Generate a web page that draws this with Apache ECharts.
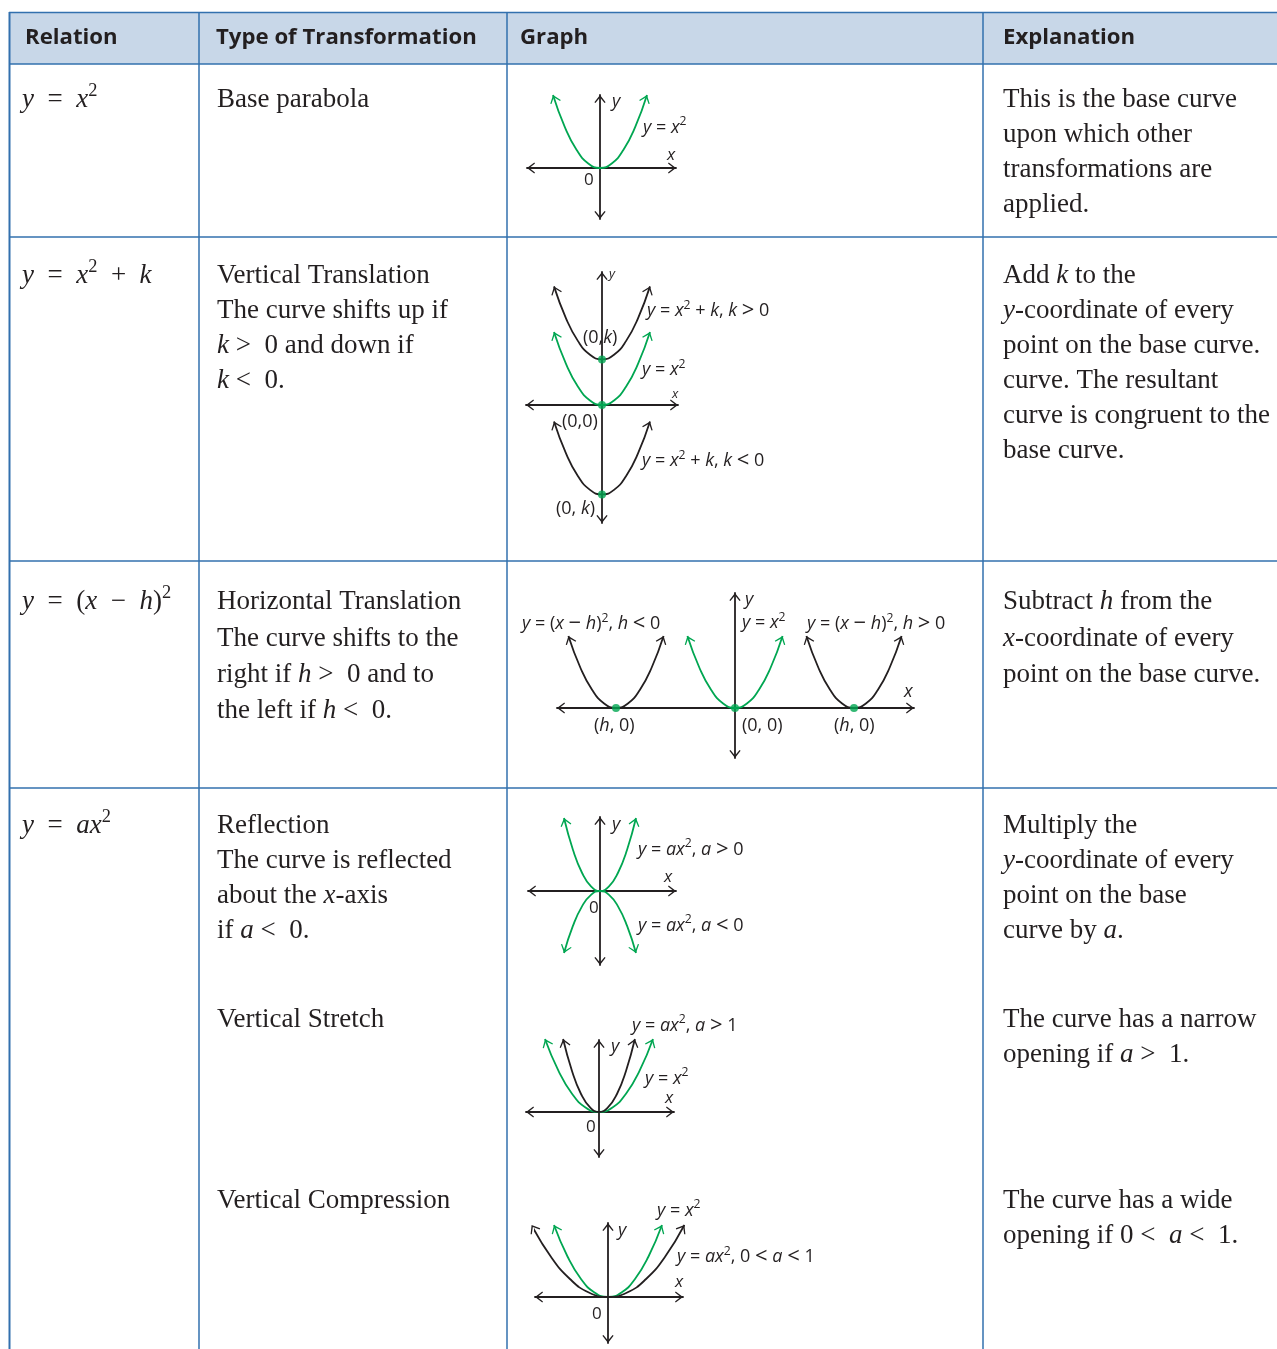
<!DOCTYPE html>
<html>
<head>
<meta charset="utf-8">
<title>Transformations of y = x^2</title>
<script src="https://cdn.jsdelivr.net/npm/echarts@6/dist/echarts.min.js"></script>
<style>
  html, body { margin: 0; padding: 0; background: #fff; }
  #chart { width: 1277px; height: 1349px; }
</style>
</head>
<body>
<div id="chart"></div>
<script>
// ---- curve samples (x values / y values per curve) ----
const baseX = [-2, -1.5, -1, -0.5, 0, 0.5, 1, 1.5, 2];
const baseY = [4, 2.25, 1, 0.25, 0, 0.25, 1, 2.25, 4];
const shiftUpY = [6.5, 4.75, 3.5, 2.75, 2.5, 2.75, 3.5, 4.75, 6.5];
const shiftDownY = [-0.9, -2.65, -3.9, -4.65, -4.9, -4.65, -3.9, -2.65, -0.9];
const leftShiftX = [-7, -6.5, -6, -5.5, -5, -4.5, -4, -3.5, -3];
const rightShiftX = [3, 3.5, 4, 4.5, 5, 5.5, 6, 6.5, 7];
const reflectX = [-1.5, -1.125, -0.75, -0.375, 0, 0.375, 0.75, 1.125, 1.5];
const reflectDownY = [-3.4, -1.9, -0.84, -0.21, 0, -0.21, -0.84, -1.9, -3.4];
const stretchX = [-1.33, -1, -0.67, -0.33, 0, 0.33, 0.67, 1, 1.33];
const compressX = [-2.83, -2.12, -1.41, -0.71, 0, 0.71, 1.41, 2.12, 2.83];
const vertexShiftV = [[0, 2.5], [0, 0], [0, -4.9]];
const vertexShiftH = [[-5, 0], [0, 0], [5, 0]];

// ---- table text (baseline y, text) ----
const headers = [[25, 'Relation'], [216, 'Type of Transformation'], [520, 'Graph'], [1003, 'Explanation']];
const relationCol = [
  [109, '{i|y}  =  {i|x}{s|2}'],
  [285, '{i|y}  =  {i|x}{s|2}  +  {i|k}'],
  [611, '{i|y}  =  ({i|x}  \u2212  {i|h}){s|2}'],
  [835, '{i|y}  =  {i|ax}{s|2}']
];
const typeCol = [
  [109, 'Base parabola'],
  [285, 'Vertical Translation'],
  [320, 'The curve shifts up if'],
  [355, '{i|k} >  0 and down if'],
  [390, '{i|k} <  0.'],
  [611, 'Horizontal Translation'],
  [648, 'The curve shifts to the'],
  [684, 'right if {i|h} >  0 and to'],
  [720, 'the left if {i|h} <  0.'],
  [835, 'Reflection'],
  [870, 'The curve is reflected'],
  [905, 'about the {i|x}-axis'],
  [940, 'if {i|a} <  0.'],
  [1029, 'Vertical Stretch'],
  [1210, 'Vertical Compression']
];
const explainCol = [
  [109, 'This is the base curve'], [144, 'upon which other'], [179, 'transformations are'], [214, 'applied.'],
  [285, 'Add {i|k} to the'], [320, '{i|y}-coordinate of every'], [355, 'point on the base curve.'],
  [390, 'curve. The resultant'], [425, 'curve is congruent to the'], [460, 'base curve.'],
  [611, 'Subtract {i|h} from the'], [648, '{i|x}-coordinate of every'], [684, 'point on the base curve.'],
  [835, 'Multiply the'], [870, '{i|y}-coordinate of every'], [905, 'point on the base'], [940, 'curve by {i|a}.'],
  [1029, 'The curve has a narrow'], [1064, 'opening if {i|a} >  1.'],
  [1210, 'The curve has a wide'], [1245, 'opening if 0 <  {i|a} <  1.']
];

const INK = '#231f20';
const GREEN = '#00a651';
const RULE = '#3270ae';
const HEAD_FILL = '#c8d7e8';
const SERIF = '"Liberation Serif", "Times New Roman", serif';
const SANS = '"Open Sans", "Noto Sans", sans-serif';
// open chevron, tip at the centre of its box so it lands on the line end
const ARROW = 'path://M0,0L5.6,7.3L4.6,8L0,2.4L-4.6,8L-5.6,7.3ZM0,-8L0.01,-8L0,-7.99Z';

// pixel frame of each small graph: origin, px per unit, axis ends
const graphs = [
  { ox: 600, oy: 168, ux: 23.5, uy: 18.25, l: 527, r: 676, t: 95, b: 219 },
  { ox: 602, oy: 405, ux: 24, uy: 18.25, l: 526, r: 678, t: 272, b: 523 },
  { ox: 735, oy: 708, ux: 23.8, uy: 18, l: 557, r: 914, t: 593, b: 758 },
  { ox: 600, oy: 891, ux: 24, uy: 18.25, l: 528, r: 676, t: 817, b: 965 },
  { ox: 599, oy: 1112, ux: 27, uy: 18.25, l: 526, r: 674, t: 1040, b: 1157 },
  { ox: 608, oy: 1297, ux: 27, uy: 18, l: 535, r: 683, t: 1223, b: 1343 }
];

const curves = [
  [0, baseX, baseY, GREEN],
  [1, baseX, shiftUpY, INK],
  [1, baseX, baseY, GREEN],
  [1, baseX, shiftDownY, INK],
  [2, leftShiftX, baseY, INK],
  [2, baseX, baseY, GREEN],
  [2, rightShiftX, baseY, INK],
  [3, reflectX, baseY, GREEN],
  [3, reflectX, reflectDownY, GREEN],
  [4, baseX, baseY, GREEN],
  [4, stretchX, baseY, INK],
  [5, baseX, baseY, GREEN],
  [5, compressX, baseY, INK]
];

// graph labels: x, middle y, text, font size
const LBL = 18;
const AX = 18;
const graphLabels = [
  [612, 102, '{i|y}', AX], [643, 127.5, '{i|y} = {i|x}{s|2}', LBL], [667, 155, '{i|x}', 17], [584, 180, '0', 17],

  [609, 274, '{i|y}', 13], [647, 311, '{i|y} = {i|x}{s|2} + {i|k}, {i|k} {o|>} 0', LBL], [583, 338, '(0,{i|k})', LBL],
  [642, 370, '{i|y} = {i|x}{s|2}', LBL], [672, 394, '{i|x}', 13], [562, 422, '(0,0)', LBL],
  [642, 461, '{i|y} = {i|x}{s|2} + {i|k}, {i|k} {o|<} 0', LBL], [556, 508.5, '(0, {i|k})', LBL],

  [745, 600, '{i|y}', AX], [522, 624, '{i|y} = ({i|x} {o|\u2212} {i|h}){s|2}, {i|h} {o|<} 0', LBL],
  [742, 623, '{i|y} = {i|x}{s|2}', LBL], [807, 624, '{i|y} = ({i|x} {o|\u2212} {i|h}){s|2}, {i|h} {o|>} 0', LBL],
  [904, 692, '{i|x}', AX], [594, 726, '({i|h}, 0)', LBL], [742, 726, '(0, 0)', LBL], [834, 726, '({i|h}, 0)', LBL],

  [612, 825, '{i|y}', AX], [638, 849.5, '{i|y} = {i|ax}{s|2}, {i|a} {o|>} 0', LBL], [664, 877.5, '{i|x}', 17],
  [589, 908, '0', 17], [638, 925.5, '{i|y} = {i|ax}{s|2}, {i|a} {o|<} 0', LBL],

  [632, 1025.5, '{i|y} = {i|ax}{s|2}, {i|a} {o|>} 1', LBL], [611, 1046.5, '{i|y}', AX], [645, 1078.5, '{i|y} = {i|x}{s|2}', LBL],
  [665, 1098.5, '{i|x}', 17], [586, 1127, '0', 17],

  [657, 1210.5, '{i|y} = {i|x}{s|2}', LBL], [618, 1230.5, '{i|y}', AX], [677, 1257, '{i|y} = {i|ax}{s|2}, 0 {o|<} {i|a} {o|<} 1', LBL],
  [675, 1282.5, '{i|x}', 17], [592, 1314, '0', 17]
];

// rich styles: italic variables, raised superscript, larger relation signs
function richFor(fs, family, raise) {
  const lh = Math.round(fs * 1.3);
  return {
    lh: lh,
    rich: {
      i: { fontFamily: family, fontSize: fs, fontStyle: 'italic', fill: INK, lineHeight: lh },
      s: { fontFamily: family, fontSize: Math.round(fs * 0.68 * 10) / 10, fill: INK, lineHeight: lh - 2 * raise, verticalAlign: 'top' },
      o: { fontFamily: family, fontSize: Math.round(fs * 1.2), fill: INK, lineHeight: lh }
    }
  };
}

function textEl(x, y, str, fs, family, rs, extra) {
  return {
    type: 'text', x: x, y: y, silent: true,
    style: Object.assign({
      text: str, fontFamily: family, fontSize: fs, fill: INK,
      align: 'left', verticalAlign: 'middle',
      lineHeight: rs ? rs.lh : undefined, rich: rs ? rs.rich : undefined
    }, extra || {})
  };
}

const SERIF_FS = 27;
const serifRich = richFor(SERIF_FS, SERIF, 4.5);
const serifMid = 0.3375 * SERIF_FS;

const graphic = [];
graphic.push({ type: 'rect', silent: true, shape: { x: 9, y: 12, width: 1268, height: 52 }, style: { fill: HEAD_FILL } });
[12.5, 64, 237, 561, 788].forEach(function (y) {
  graphic.push({ type: 'line', silent: true, shape: { x1: 9, y1: y, x2: 1277, y2: y }, style: { stroke: RULE, lineWidth: 1.5 } });
});
[9.5, 199, 507, 983].forEach(function (x) {
  graphic.push({ type: 'line', silent: true, shape: { x1: x, y1: 12, x2: x, y2: 1349 }, style: { stroke: RULE, lineWidth: x < 10 ? 2 : 1.5 } });
});
headers.forEach(function (h) {
  graphic.push(textEl(h[0], 38, h[1], 22.2, SANS, null, { fontWeight: 'bold' }));
});
relationCol.forEach(function (t) { graphic.push(textEl(22, t[0] - serifMid, t[1], SERIF_FS, SERIF, serifRich)); });
typeCol.forEach(function (t) { graphic.push(textEl(217, t[0] - serifMid, t[1], SERIF_FS, SERIF, serifRich)); });
explainCol.forEach(function (t) { graphic.push(textEl(1003, t[0] - serifMid, t[1], SERIF_FS, SERIF, serifRich)); });
graphLabels.forEach(function (t) {
  graphic.push(textEl(t[0], t[1], t[2], t[3], SANS, richFor(t[3], SANS, 3.2)));
});

function axisFor(i, min, max) {
  return {
    gridIndex: i, type: 'value', min: min, max: max, silent: true,
    axisLine: { onZero: true, symbol: [ARROW, ARROW], symbolSize: [11.2, 16], lineStyle: { color: INK, width: 1.8 } },
    axisTick: { show: false }, axisLabel: { show: false }, splitLine: { show: false }
  };
}

function curveSeries(gi, xs, ys, color) {
  const g = graphs[gi];
  const n = xs.length;
  const angle = function (a, b) {
    const dx = (xs[a] - xs[b]) * g.ux;
    const dy = -(ys[a] - ys[b]) * g.uy;
    return Math.atan2(-dx, -dy) * 180 / Math.PI;
  };
  const data = xs.map(function (x, i) { return [x, ys[i]]; });
  const tip = function (i, ang) {
    return { value: [xs[i], ys[i]], symbol: ARROW, symbolSize: [11.2, 16], symbolRotate: ang, itemStyle: { color: color, borderWidth: 0 } };
  };
  data[0] = tip(0, angle(0, 1));
  data[n - 1] = tip(n - 1, angle(n - 1, n - 2));
  return {
    type: 'line', xAxisIndex: gi, yAxisIndex: gi, data: data, smooth: 0.5,
    symbol: 'none', showSymbol: true, showAllSymbol: true, clip: false, silent: true,
    lineStyle: { color: color, width: 1.8 }, itemStyle: { color: color }, z: 3
  };
}

const series = curves.map(function (c) { return curveSeries(c[0], c[1], c[2], c[3]); });
series.push({ type: 'scatter', xAxisIndex: 1, yAxisIndex: 1, data: vertexShiftV, symbolSize: 8, itemStyle: { color: GREEN }, z: 5, silent: true });
series.push({ type: 'scatter', xAxisIndex: 2, yAxisIndex: 2, data: vertexShiftH, symbolSize: 8, itemStyle: { color: GREEN }, z: 5, silent: true });

const chart = echarts.init(document.getElementById('chart'), null, { renderer: 'canvas' });
chart.setOption({
  animation: false,
  backgroundColor: '#ffffff',
  grid: graphs.map(function (g) { return { left: g.l, top: g.t, width: g.r - g.l, height: g.b - g.t }; }),
  xAxis: graphs.map(function (g, i) { return axisFor(i, (g.l - g.ox) / g.ux, (g.r - g.ox) / g.ux); }),
  yAxis: graphs.map(function (g, i) { return axisFor(i, -(g.b - g.oy) / g.uy, (g.oy - g.t) / g.uy); }),
  series: series,
  graphic: graphic
});
</script>
</body>
</html>
